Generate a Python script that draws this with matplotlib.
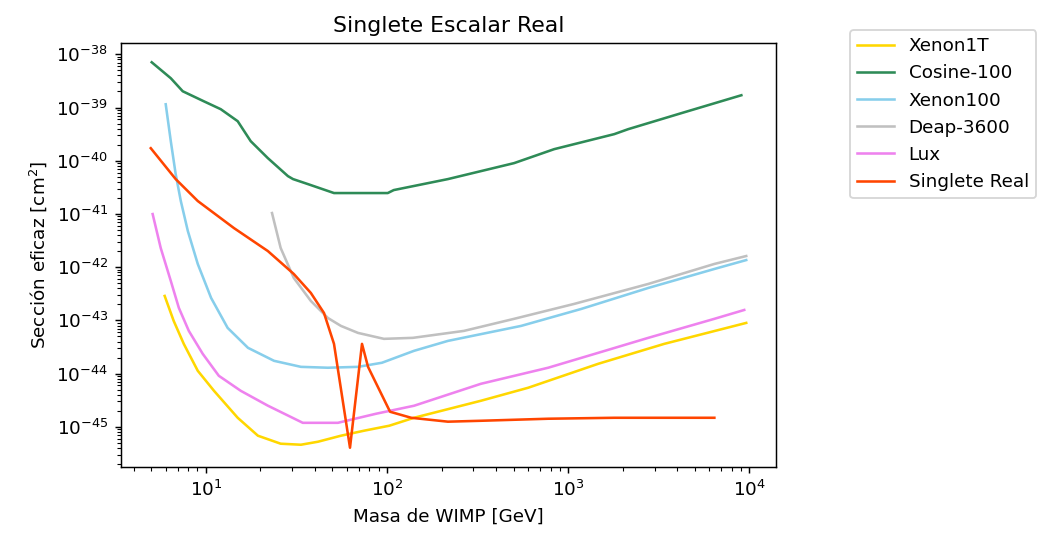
import matplotlib
matplotlib.use("Agg")
import matplotlib.pyplot as plt

# Xenon1T
xenon1t_m = [5.93, 6.65, 7.56, 9.03, 11.1, 15.0, 19.4, 25.9, 33.5, 41.6, 55.7, 74.6, 103, 141, 330, 601, 1466, 3388, 9610]
xenon1t_s = [2.88e-43, 9.79e-44, 3.62e-44, 1.13e-44, 4.75e-45, 1.48e-45, 6.81e-46, 4.82e-46, 4.61e-46, 5.25e-46,
             6.81e-46, 8.45e-46, 1.05e-45, 1.48e-45, 3.09e-45, 5.42e-45, 1.53e-44, 3.62e-44, 8.97e-44]

# Cosine-100
cosine_m = [5.03, 6.41, 7.46, 9.75, 12.1, 15.0, 17.7, 22.0, 28.4, 30.3, 36.6, 51, 81.6, 101, 109, 217, 503, 837,
            1796, 2145, 4206, 9033]
cosine_s = [7.08e-39, 3.55e-39, 2.02e-39, 1.31e-39, 9.29e-40, 5.53e-40, 2.33e-40, 1.12e-40, 5.14e-41, 4.52e-41,
            3.64e-41, 2.47e-41, 2.47e-41, 2.47e-41, 2.81e-41, 4.52e-41, 9.02e-41, 1.65e-40, 3.16e-40, 3.92e-40,
            7.82e-40, 1.70e-39]

# Xenon100
xenon100_m = [6.01, 6.41, 6.82, 7.28, 7.96, 9.03, 10.7, 13.2, 17.1, 23.8, 33.5, 47.2, 69.2, 93.8, 141, 217, 550,
              1180, 2768, 6410, 9610]
xenon100_s = [1.15e-39, 2.33e-40, 5.61e-41, 1.75e-41, 4.78e-42, 1.15e-42, 2.64e-43, 7.23e-44, 3.05e-44, 1.74e-44,
              1.34e-44, 1.29e-44, 1.34e-44, 1.60e-44, 2.68e-44, 4.12e-44, 7.88e-44, 1.64e-43, 4.07e-43, 9.25e-43,
              1.36e-42]

# Deap-3600
deap_m = [23.2, 25.9, 30.6, 38.0, 47.2, 55.7, 69.2, 96.2, 139, 266, 503, 1079, 2768, 6410, 9610]
deap_s = [1.04e-41, 2.29e-42, 6.27e-43, 2.32e-43, 1.11e-43, 7.88e-44, 5.82e-44, 4.50e-44, 4.70e-44, 6.35e-44,
          1.07e-43, 2.04e-43, 4.84e-43, 1.15e-42, 1.62e-42]

# Lux
lux_m = [5.09, 5.64, 6.41, 7.10, 8.06, 9.62, 11.8, 15.6, 22.0, 34.3, 53.6, 86.9, 141, 330, 776, 1466, 2768, 6410, 9370]
lux_s = [9.95e-42, 2.29e-42, 5.51e-43, 1.72e-43, 6.35e-44, 2.35e-44, 9.10e-45, 4.75e-45, 2.50e-45, 1.19e-45,
         1.19e-45, 1.76e-45, 2.49e-45, 6.44e-45, 1.29e-44, 2.46e-44, 4.70e-44, 1.07e-43, 1.57e-43]

# Singlete Real
singlete_m = [4.97, 6.82, 9.03, 14.3, 22.0, 30.6, 38.0, 44.9, 51.0, 62.5, 72.8, 78.6, 104, 136, 217, 330, 776,
              1796, 6410]
singlete_s = [1.72e-40, 4.52e-41, 1.75e-41, 5.43e-42, 2.01e-42, 7.45e-43, 3.28e-43, 1.38e-43, 3.62e-44, 4.05e-46,
              3.62e-44, 1.34e-44, 1.92e-45, 1.48e-45, 1.25e-45, 1.30e-45, 1.42e-45, 1.48e-45, 1.48e-45]

labels = ["Xenon1T", "Cosine-100", "Xenon100", "Deap-3600", "Lux", "Singlete Real"]
colors = ["gold", "seagreen", "skyblue", "silver", "violet", "orangered"]

DPI = 132
fig = plt.figure(figsize=(1046 / DPI, 544 / DPI), dpi=DPI)
ax = fig.add_axes([121 / 1046, 1 - 467 / 544, 655 / 1046, 424 / 544])

series = [(xenon1t_m, xenon1t_s), (cosine_m, cosine_s), (xenon100_m, xenon100_s),
          (deap_m, deap_s), (lux_m, lux_s), (singlete_m, singlete_s)]
for (m, s), lab, c in zip(series, labels, colors):
    ax.plot(m, s, color=c, label=lab, lw=1.4)

ax.set_xscale("log")
ax.set_yscale("log")
ax.set_title("Singlete Escalar Real")
ax.set_xlabel("Masa de WIMP [GeV]")
ax.set_ylabel("Sección eficaz [cm$^2$]")
ax.legend(loc="upper left", bbox_to_anchor=(1.113, 1.031), borderaxespad=0)

fig.savefig("out.png", dpi=DPI)
